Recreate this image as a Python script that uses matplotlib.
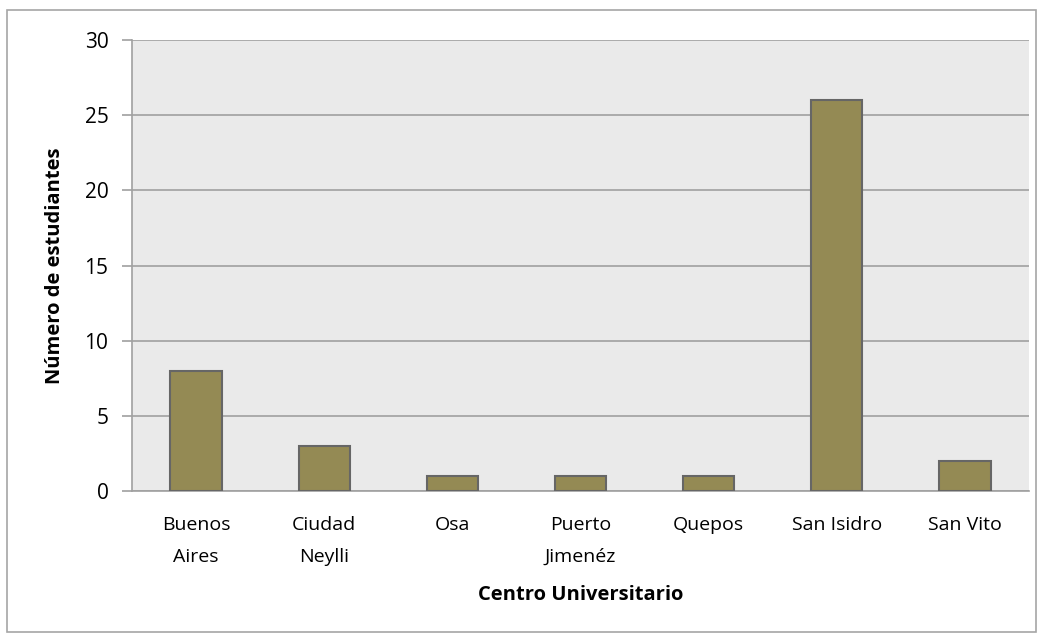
import matplotlib.pyplot as plt
from matplotlib.patches import Rectangle

# Datos
centros = ['Buenos\nAires', 'Ciudad\nNeylli', 'Osa', 'Puerto\nJimenéz', 'Quepos', 'San Isidro', 'San Vito']
estudiantes = [8, 3, 1, 1, 1, 26, 2]
y_ticks = [0, 5, 10, 15, 20, 25, 30]

plt.rcParams['font.family'] = ['Open Sans', 'DejaVu Sans']

fig = plt.figure(figsize=(10.44, 6.39), dpi=100)
ax = fig.add_axes([132 / 1044, 1 - 491 / 639, (1029 - 132) / 1044, (491 - 40) / 639])

# Borde exterior del gráfico
fig.patches.append(Rectangle((7 / 1044, 1 - 632 / 639), (1036 - 7) / 1044, (632 - 10) / 639,
                             transform=fig.transFigure, fill=False, edgecolor='#A6A6A6', linewidth=1.2))

ax.set_facecolor('#EAEAEA')
x = range(len(centros))
ax.bar(x, estudiantes, width=0.4, color='#948A54', edgecolor='#666666', linewidth=1.5, zorder=3)

ax.set_xlim(-0.5, len(centros) - 0.5)
ax.set_ylim(0, 30)
ax.set_yticks(y_ticks)
ax.set_xticks(list(x))
ax.set_xticklabels(centros, fontsize=14, linespacing=2.0)
ax.tick_params(axis='y', labelsize=15, length=7, color='#A0A0A0', width=1.2, pad=10)
ax.tick_params(axis='x', length=0, pad=18)

ax.grid(axis='y', color='#A0A0A0', linewidth=1.2, zorder=0)
for side in ['top', 'right']:
    ax.spines[side].set_visible(False)
ax.spines['left'].set_color('#A0A0A0')
ax.spines['bottom'].set_color('#A0A0A0')
ax.spines['left'].set_linewidth(1.2)
ax.spines['bottom'].set_linewidth(1.2)

ax.set_ylabel('Número de estudiantes', fontsize=14.5, fontweight='bold', labelpad=14)
ax.set_xlabel('Centro Universitario', fontsize=14.5, fontweight='bold', labelpad=14)

plt.savefig('out.png', dpi=100)
